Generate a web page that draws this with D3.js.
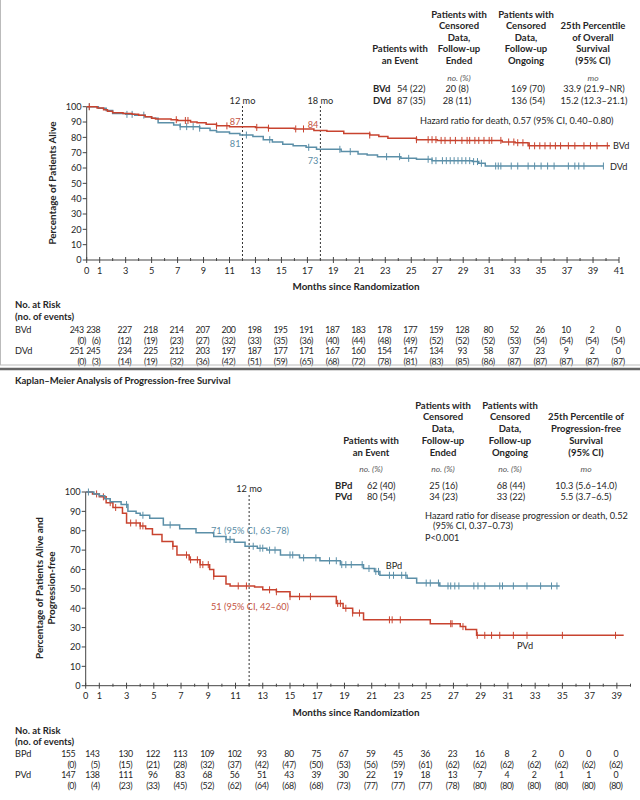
<!DOCTYPE html>
<html><head><meta charset="utf-8">
<script src="https://cdn.jsdelivr.net/npm/d3@7"></script>
<style>
body{margin:0;background:#fff}
text{font-family:Lato,"Open Sans",sans-serif;fill:#262626}
</style>
</head><body>
<svg id="c" width="640" height="800"></svg>
<script>
// ---------- DATA ----------
// Overall survival (top panel)
const osBVdT = [0,0.8,1.3,1.6,2.0,2.8,3.5,4.0,4.5,5.0,5.3,6.5,7.0,8.0,8.5,9.2,10.0,11.0,13.0,14.0,16.0,17.5,18.5,19.8,21.8,22.5,23.2,25.4,27.0,32.0,33.0,34.0,40.3];
const osBVdS = [100,99.2,98,97,96,95.5,95,94.5,93.5,92.5,92,91.5,91,90,89.5,88.5,87.5,87,86.5,86,85.5,84.5,84,82.5,81.5,80.5,79.5,78.5,78,77,76.5,74.5,74.5];
const osDVdT = [0,0.9,1.5,2.0,3.0,3.7,4.5,5.0,5.5,6.7,7.2,8.7,9.5,10.0,11.0,11.8,12.8,13.6,14.3,15.1,15.9,16.9,17.7,19.6,20.9,21.6,22.4,24.2,25.4,26.6,29.7,30.2,30.7,39.8];
const osDVdS = [100,99,97.5,95.5,95,94.5,93.5,92.5,89.5,88,87,86,84.5,83.5,82.5,81.5,80.5,78.5,77,75.5,74.5,73.5,72.2,70.7,69.2,68.5,67.4,66.3,65.7,64.8,64.2,63.1,61.3,61.3];
const osBVdCensor = [0.2,6.9,7.6,7.8,10.0,10.8,13.1,14.0,16.1,16.7,21.8,25.4,26.3,26.6,26.9,27.3,27.6,28.0,28.4,28.9,29.3,29.5,29.9,30.2,30.6,31.0,31.2,31.9,32.5,32.9,33.2,33.6,34.1,34.5,34.9,35.3,35.7,36.1,36.5,37.1,37.6,38.3,38.8,39.3,40.1];
const osDVdCensor = [0.2,3.1,3.5,4.4,7.2,7.7,8.2,8.7,12.3,14.1,17.1,19.5,20.3,23.1,24.1,24.8,26.3,26.6,26.9,27.4,27.7,28.0,28.3,28.6,28.9,29.2,29.5,29.8,30.1,30.4,31.5,31.7,31.9,32.7,33.2,34.0,34.5,35.0,35.5,36.0,37.1,37.6,37.9,38.3,39.8];
const osTickLabels = [0,1,3,5,7,9,11,13,15,17,19,21,23,25,27,29,31,33,35,37,39,41];
const osRiskMonths = [0,1,3,5,7,9,11,13,15,17,19,21,23,25,27,29,31,33,35,37,39,41];
const osBVdRisk = [243,238,227,218,214,207,200,198,195,191,187,183,178,177,159,128,80,52,26,10,2,0];
const osBVdEvents = [0,6,12,19,23,27,32,33,35,36,40,44,48,49,52,52,52,53,54,54,54,54];
const osDVdRisk = [251,245,234,225,212,203,197,187,177,171,167,160,154,147,134,93,58,37,23,9,2,0];
const osDVdEvents = [0,3,14,19,32,36,42,51,59,65,68,72,78,81,83,85,86,87,87,87,87,87];
const osTableRows = [
  ["BVd","54 (22)","20 (8)","169 (70)","33.9 (21.9–NR)"],
  ["DVd","87 (35)","28 (11)","136 (54)","15.2 (12.3–21.1)"]
];

// Progression-free survival (bottom panel)
const pfsBPdT = [0,0.6,1.0,1.4,1.8,2.6,3.1,3.7,4.0,4.7,5.7,6.9,8.1,9.4,10.3,10.9,11.7,12.6,13.3,14.3,15.7,17.2,18.7,20.4,21.2,21.6,23.6,24.3,26.0,34.8];
const pfsBPdS = [100,99,98,96.5,95,93.5,90,89,88,86.5,83,81,79,77,75.5,74,72,71,70,67.5,66,64.5,62.5,60.5,59,57,55.5,53,51.5,51.5];
const pfsPVdT = [0,0.5,1.0,1.5,2.0,2.7,3.0,4.0,4.4,4.9,5.6,6.4,6.7,7.6,8.4,9.1,9.4,10.3,10.6,12.4,13.0,14.0,15.0,18.4,18.9,19.6,20.4,25.3,27.5,27.9,28.7,39.5];
const pfsPVdS = [100,99,97.5,94.5,92,89,84,82.5,81,78,74.5,72,67.5,65,62.5,60,56.5,52.5,51.5,51,49.5,48.5,46,42.5,40,37.5,34,32,30.5,29,26,26];
const pfsBPdCensor = [0.2,3.0,4.2,6.2,10.3,10.6,12.3,12.8,13.0,13.5,13.9,15.0,15.2,16.0,16.9,17.9,18.4,18.8,19.1,19.5,20.3,20.8,21.3,21.5,22.3,22.6,23.2,23.5,25.0,25.3,25.9,26.6,26.8,27.1,27.4,28.5,28.8,29.3,30.4,30.6,31.4,32.4,33.4,34.2,34.6];
const pfsPVdCensor = [0.8,1.3,1.8,2.2,3.3,3.7,4.0,4.2,6.4,7.4,7.7,8.2,8.4,8.6,9.0,9.4,11.2,11.8,13.5,14.0,15.0,15.7,16.5,18.5,18.7,19.1,19.6,20.1,22.3,22.5,23.1,26.8,26.9,27.7,28.75,29.3,29.8,30.4,31.4,32.4,35.0,38.9];
const pfsTickLabels = [0,1,3,5,7,9,11,13,15,17,19,21,23,25,27,29,31,33,35,37,39];
const pfsRiskMonths = [0,1,3,5,7,9,11,13,15,17,19,21,23,25,27,29,31,33,35,37,39];
const pfsBPdRisk = [155,143,130,122,113,109,102,93,80,75,67,59,45,36,23,16,8,2,0,0,0];
const pfsBPdEvents = [0,5,15,21,28,32,37,42,47,50,53,56,59,61,62,62,62,62,62,62,62];
const pfsPVdRisk = [147,138,111,96,83,68,56,51,43,39,30,22,19,18,13,7,4,2,1,1,0];
const pfsPVdEvents = [0,4,23,33,45,52,62,64,68,68,73,77,77,77,78,80,80,80,80,80,80];
const pfsTableRows = [
  ["BPd","62 (40)","25 (16)","68 (44)","10.3 (5.6–14.0)"],
  ["PVd","80 (54)","34 (23)","33 (22)","5.5 (3.7–6.5)"]
];

// ---------- DRAWING ----------
const RED = "#c8432f", BLUE = "#5b8fa8", REDTXT = "#c4543f", BLUETXT = "#5a8ca5";
const HB = 9.5; // bold header size
const svg = d3.select("#c");

function txt(x, y, s, o = {}) {
  const t = svg.append("text").attr("x", x).attr("y", y).text(s)
    .attr("font-size", o.size || 9)
    .attr("text-anchor", o.anchor || "start");
  if (o.bold) t.attr("font-weight", "bold");
  if (o.italic) t.attr("font-style", "italic");
  if (o.color) t.style("fill", o.color);
  if (o.ls) t.attr("letter-spacing", o.ls);
  if (o.rotate) t.attr("transform", `rotate(-90,${x},${y})`);
  return t;
}

function stepValue(T, S, c) {
  let v = S[0];
  for (let i = 0; i < T.length; i++) if (T[i] <= c) v = S[i];
  return v;
}

function drawCurve(x, y, T, S, C, color) {
  const pts = T.map((t, i) => [t, S[i]]);
  svg.append("path").datum(pts)
    .attr("d", d3.line().x(d => x(d[0])).y(d => y(d[1])).curve(d3.curveStepAfter))
    .attr("fill", "none").attr("stroke", color).attr("stroke-width", 1.5);
  svg.append("g").selectAll("line").data(C).join("line")
    .attr("x1", d => x(d)).attr("x2", d => x(d))
    .attr("y1", d => y(stepValue(T, S, d)) - 3.5)
    .attr("y2", d => y(stepValue(T, S, d)) + 3.5)
    .attr("stroke", color).attr("stroke-width", 1);
}

function drawAxes(x, y, xmax, labels) {
  const g = svg.append("g").attr("stroke", "#444").attr("stroke-width", 1);
  const x0 = x(0), y0 = y(0);
  g.append("line").attr("x1", x0).attr("x2", x0).attr("y1", y0).attr("y2", y(100));
  g.append("line").attr("x1", x0).attr("x2", x(xmax)).attr("y1", y0).attr("y2", y0);
  d3.range(0, 101, 10).forEach(v => {
    g.append("line").attr("x1", x0 - 4).attr("x2", x0).attr("y1", y(v)).attr("y2", y(v));
    txt(x0 - 5, y(v) + 3.3, v, { anchor: "end", size: 9.2 });
  });
  d3.range(0, Math.floor(xmax) + 1).forEach(m => {
    const lab = labels.includes(m);
    g.append("line").attr("x1", x(m)).attr("x2", x(m))
      .attr("y1", y0 - (lab ? 3 : 2)).attr("y2", y0 + (lab ? 3 : 1));
  });
  labels.forEach(m => txt(x(m), y0 + 13.5, m, { anchor: "middle", size: 9.2 }));
}

function dashed(x, xv, y1, y2) {
  svg.append("line").attr("x1", x(xv)).attr("x2", x(xv)).attr("y1", y1).attr("y2", y2)
    .attr("stroke", "#333").attr("stroke-width", 1).attr("stroke-dasharray", "2,2");
}

// ===== TOP PANEL: Overall survival =====
const xOS = d3.scaleLinear().domain([0, 41]).range([86.7, 619]);
const yOS = d3.scaleLinear().domain([0, 100]).range([260, 106.7]);

const topCols = [400, 459, 526, 593];
["Patients with","Censored","Data,","Follow-up","Ended"].forEach((l, i) =>
  txt(topCols[1], 17.5 + i * 11.6, l, { anchor: "middle", bold: true, size: HB }));
["Patients with","Censored","Data,","Follow-up","Ongoing"].forEach((l, i) =>
  txt(topCols[2], 17.5 + i * 11.6, l, { anchor: "middle", bold: true, size: HB }));
["25th Percentile","of Overall","Survival","(95% CI)"].forEach((l, i) =>
  txt(topCols[3], 29.1 + i * 11.6, l, { anchor: "middle", bold: true, size: HB }));
["Patients with","an Event"].forEach((l, i) =>
  txt(topCols[0], 52.3 + i * 11.6, l, { anchor: "middle", bold: true, size: HB }));
txt(topCols[1], 80.5, "no. (%)", { anchor: "middle", italic: true, size: 8.5, color: "#555" });
txt(topCols[3], 80.5, "mo", { anchor: "middle", italic: true, size: 8.5, color: "#555" });
osTableRows.forEach((r, i) => {
  const yy = 91.8 + i * 11.8;
  txt(373, yy, r[0], { bold: true, size: HB });
  txt(397, yy, r[1], { size: 9.2 });
  txt(topCols[1] - 2, yy, r[2], { anchor: "middle", size: 9.2 });
  txt(528, yy, r[3], { anchor: "middle", size: 9.2 });
  txt(594, yy, r[4], { anchor: "middle", size: 9.2 });
});
txt(420, 124, "Hazard ratio for death, 0.57 (95% CI, 0.40–0.80)", { size: 9.2 });

dashed(xOS, 12, 106, yOS(0));
dashed(xOS, 18, 106, yOS(0));
txt(xOS(12), 104, "12 mo", { anchor: "middle", size: 9.2 });
txt(xOS(18), 104, "18 mo", { anchor: "middle", size: 9.2 });

drawAxes(xOS, yOS, 41, osTickLabels);
drawCurve(xOS, yOS, osDVdT, osDVdS, osDVdCensor, BLUE);
drawCurve(xOS, yOS, osBVdT, osBVdS, osBVdCensor, RED);

txt(xOS(12) - 2, 124.5, "87", { anchor: "end", color: REDTXT, size: 9.2 });
txt(xOS(12) - 2, 146.5, "81", { anchor: "end", color: BLUETXT, size: 9.2 });
txt(xOS(18) - 2, 128, "84", { anchor: "end", color: REDTXT, size: 9.2 });
txt(xOS(18) - 2, 164, "73", { anchor: "end", color: BLUETXT, size: 9.2 });
txt(613, yOS(74.5) + 3.5, "BVd", { size: 9.2 });
txt(610, yOS(61.3) + 3.5, "DVd", { size: 9.2 });

txt(356, 290, "Months since Randomization", { anchor: "middle", bold: true, size: 9.9 });
txt(56, 183, "Percentage of Patients Alive", { anchor: "middle", bold: true, size: 9.9, rotate: true });

function riskRows(x, months, rows, yStart, dxCount, dxEvent) {
  rows.forEach((r, k) => {
    const yy = yStart + k * 21.7;
    txt(15, yy, r.name, { size: 9.2 });
    months.forEach((m, i) => {
      const dc = i < dxCount.length ? dxCount[i] : -1;
      const de = i < dxEvent.length ? dxEvent[i] : -1;
      txt(x(m) + dc, yy, r.risk[i], { anchor: "middle", size: 8.8, ls: -0.4 });
      txt(x(m) + de, yy + 11, `(${r.events[i]})`, { anchor: "middle", size: 8.8, ls: -0.4 });
    });
  });
}
txt(15, 308, "No. at Risk", { bold: true, size: HB });
txt(15, 320, "(no. of events)", { bold: true, size: HB });
riskRows(xOS, osRiskMonths, [
  { name: "BVd", risk: osBVdRisk, events: osBVdEvents },
  { name: "DVd", risk: osDVdRisk, events: osDVdEvents }
], 332.5, [-10, -6.5], [-5, -3.5]);

// panel separators
svg.append("line").attr("x1", 0.5).attr("x2", 0.5).attr("y1", 0).attr("y2", 365)
  .attr("stroke", "#bbb").attr("stroke-width", 1);
svg.append("line").attr("x1", 0).attr("x2", 640).attr("y1", 365).attr("y2", 365)
  .attr("stroke", "#bbb").attr("stroke-width", 1);
svg.append("line").attr("x1", 0).attr("x2", 640).attr("y1", 369).attr("y2", 369)
  .attr("stroke", "#666").attr("stroke-width", 2.5);

// ===== BOTTOM PANEL: PFS =====
const xPFS = d3.scaleLinear().domain([0, 40]).range([85.7, 85.7 + 40 * 13.62]);
const yPFS = d3.scaleLinear().domain([0, 100]).range([685.7, 492]);

txt(15, 384, "Kaplan–Meier Analysis of Progression-free Survival", { bold: true, size: HB });
const botCols = [371, 443, 510, 586];
["Patients with","Censored","Data,","Follow-up","Ended"].forEach((l, i) =>
  txt(botCols[1], 408.5 + i * 11.8, l, { anchor: "middle", bold: true, size: HB }));
["Patients with","Censored","Data,","Follow-up","Ongoing"].forEach((l, i) =>
  txt(botCols[2], 408.5 + i * 11.8, l, { anchor: "middle", bold: true, size: HB }));
["25th Percentile of","Progression-free","Survival","(95% CI)"].forEach((l, i) =>
  txt(botCols[3], 420.3 + i * 11.8, l, { anchor: "middle", bold: true, size: HB }));
["Patients with","an Event"].forEach((l, i) =>
  txt(botCols[0], 443.9 + i * 11.8, l, { anchor: "middle", bold: true, size: HB }));
[0, 1, 2].forEach(i => txt(botCols[i], 472, "no. (%)", { anchor: "middle", italic: true, size: 8.5, color: "#555" }));
txt(botCols[3], 472, "mo", { anchor: "middle", italic: true, size: 8.5, color: "#555" });
pfsTableRows.forEach((r, i) => {
  const yy = 488.5 + i * 11.5;
  txt(335, yy, r[0], { bold: true, size: HB });
  txt(367, yy, r[1], { size: 9.2 });
  txt(443.5, yy, r[2], { anchor: "middle", size: 9.2 });
  txt(511, yy, r[3], { anchor: "middle", size: 9.2 });
  txt(586, yy, r[4], { anchor: "middle", size: 9.2 });
});
txt(425, 518.5, "Hazard ratio for disease progression or death, 0.52", { size: 9.2 });
txt(433, 528.5, "(95% CI, 0.37–0.73)", { size: 9.2 });
txt(425, 540.5, "P<0.001", { size: 9.2 });

dashed(xPFS, 12, 495, yPFS(0));
txt(xPFS(12), 492, "12 mo", { anchor: "middle", size: 9.2 });

drawAxes(xPFS, yPFS, 40, pfsTickLabels);
drawCurve(xPFS, yPFS, pfsPVdT, pfsPVdS, pfsPVdCensor, RED);
drawCurve(xPFS, yPFS, pfsBPdT, pfsBPdS, pfsBPdCensor, BLUE);

txt(250, 533.5, "71 (95% CI, 63–78)", { anchor: "middle", color: BLUETXT, size: 9.2 });
txt(250, 610, "51 (95% CI, 42–60)", { anchor: "middle", color: REDTXT, size: 9.2 });
txt(394, 568.5, "BPd", { anchor: "middle", size: 9.2 });
txt(525, 648.5, "PVd", { anchor: "middle", size: 9.2 });

txt(356, 716, "Months since Randomization", { anchor: "middle", bold: true, size: 9.9 });
txt(43, 588, "Percentage of Patients Alive and", { anchor: "middle", bold: true, size: 9.9, rotate: true });
txt(55, 588, "Progression-free", { anchor: "middle", bold: true, size: 9.9, rotate: true });

txt(15, 734, "No. at Risk", { bold: true, size: HB });
txt(15, 745, "(no. of events)", { bold: true, size: HB });
riskRows(xPFS, pfsRiskMonths, [
  { name: "BPd", risk: pfsBPdRisk, events: pfsBPdEvents },
  { name: "PVd", risk: pfsPVdRisk, events: pfsPVdEvents }
], 756.5, [-17.5, -7], [-14, -4]);
</script>
</body></html>
